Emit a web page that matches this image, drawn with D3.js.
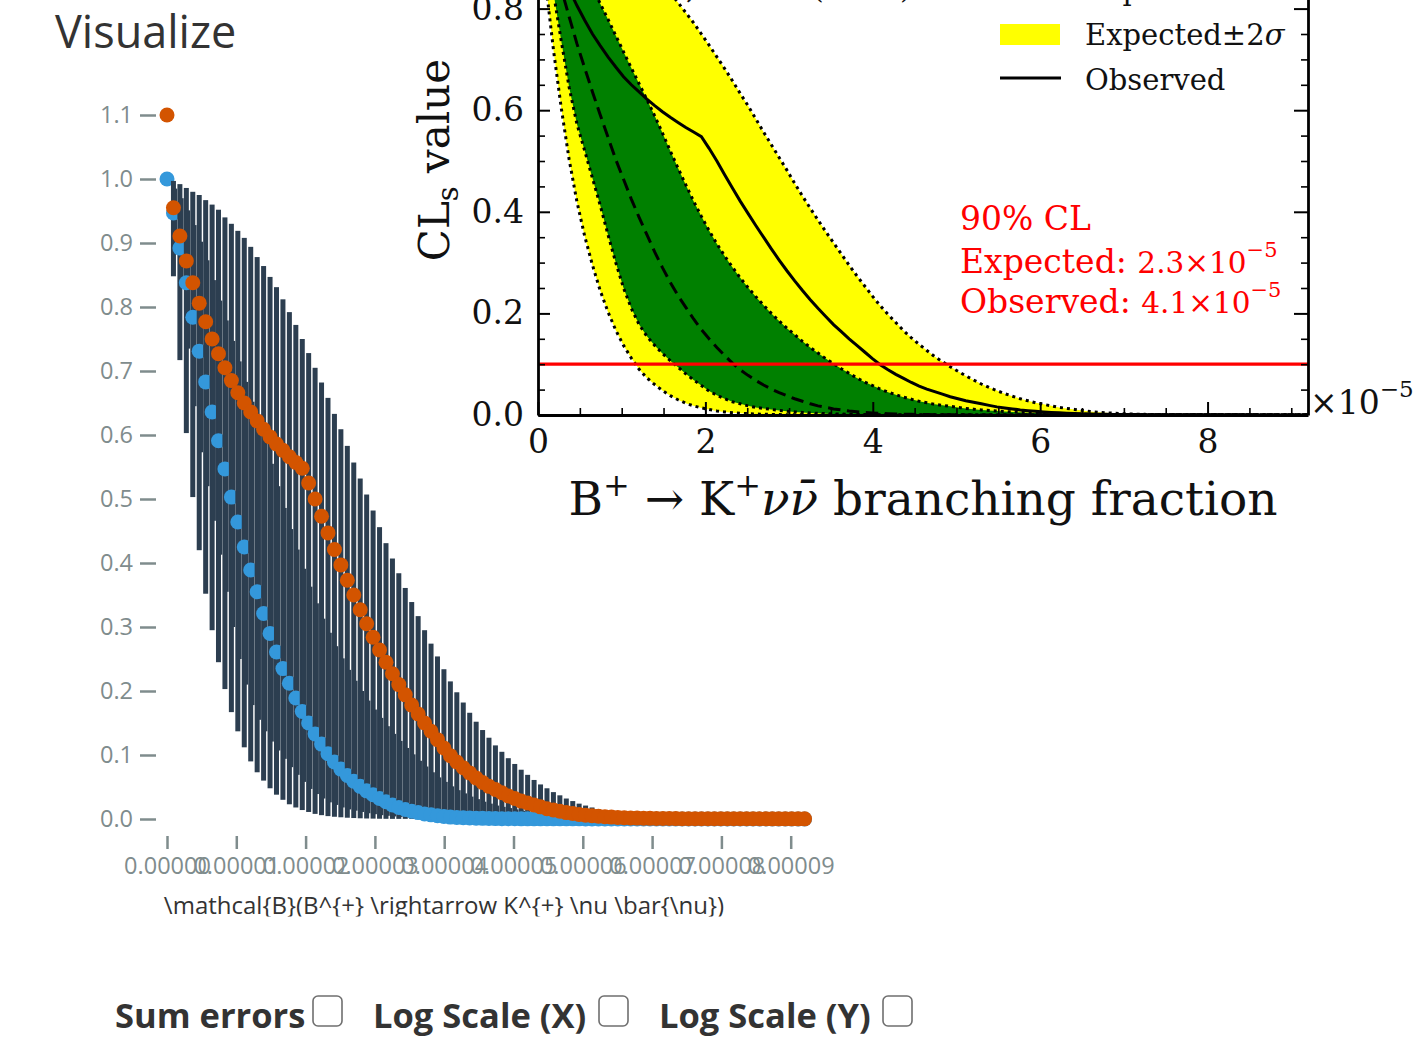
<!DOCTYPE html>
<html>
<head>
<meta charset="utf-8">
<title>B+ → K+νν̄ CLs scan</title>
<script src="https://cdn.jsdelivr.net/npm/d3@7/dist/d3.min.js"></script>
<style>
  html, body { margin: 0; padding: 0; background: #fff; }
  svg { display: block; }
</style>
</head>
<body>
<script>
// Scan points of the branching fraction, in units of 10^-5
const branching = [
  0, 0.093, 0.186, 0.279, 0.372, 0.465, 0.558, 0.651, 0.743, 0.836,
  0.929, 1.022, 1.115, 1.208, 1.301, 1.394, 1.487, 1.580, 1.673, 1.766,
  1.859, 1.952, 2.044, 2.137, 2.230, 2.323, 2.416, 2.509, 2.602, 2.695,
  2.788, 2.881, 2.974, 3.067, 3.160, 3.253, 3.345, 3.438, 3.531, 3.624,
  3.717, 3.810, 3.903, 3.996, 4.089, 4.182, 4.275, 4.368, 4.461, 4.554,
  4.646, 4.739, 4.832, 4.925, 5.018, 5.111, 5.204, 5.297, 5.390, 5.483,
  5.576, 5.669, 5.762, 5.855, 5.947, 6.040, 6.133, 6.226, 6.319, 6.412,
  6.505, 6.598, 6.691, 6.784, 6.877, 6.970, 7.063, 7.156, 7.248, 7.341,
  7.434, 7.527, 7.620, 7.713, 7.806, 7.899, 7.992, 8.085, 8.178, 8.271,
  8.364, 8.457, 8.549, 8.642, 8.735, 8.828, 8.921, 9.014, 9.107, 9.200
];

// CLs values at each scan point
const expected = [
  1.000, 0.947, 0.892, 0.838, 0.784, 0.731, 0.683, 0.636, 0.591, 0.547,
  0.503, 0.464, 0.425, 0.389, 0.355, 0.321, 0.290, 0.261, 0.235, 0.212,
  0.189, 0.168, 0.150, 0.133, 0.117, 0.102, 0.089, 0.078, 0.068, 0.059,
  0.051, 0.044, 0.038, 0.032, 0.027, 0.022, 0.018, 0.015, 0.012, 0.010,
  0.008, 0.0065, 0.005, 0.004, 0.003, 0.0025, 0.002, 0.0016, 0.0013, 0.001,
  0.0008, 0.0006, 0.0005, 0.0004, 0.0003, 0.0002, 0.0002, 0.0002, 0.0002, 0.0002,
  0.0002, 0.0002, 0.0002, 0.0002, 0.0002, 0.0001, 0.0001, 0.0001, 0.0001, 0.0001,
  0.0001, 0.0001, 0.0001, 0.0001, 0.0001, 0.0001, 0.0001, 0.0001, 0.0001, 0.0001,
  0.0001, 0.0001, 0.0001, 0.0001, 0.0001, 0.0001, 0.0001, 0.0001, 0.0001, 0.0001,
  0.0001, 0.0001, 0.0001, 0.0001, 0.0001, 0.0001, 0.0001, 0.0001, 0.0001, 0.0001
];
const observed = [
  1.100, 0.955, 0.911, 0.872, 0.838, 0.806, 0.777, 0.750, 0.727, 0.705,
  0.685, 0.666, 0.650, 0.636, 0.622, 0.609, 0.597, 0.586, 0.576, 0.566,
  0.557, 0.548, 0.525, 0.500, 0.473, 0.447, 0.421, 0.397, 0.373, 0.350,
  0.327, 0.305, 0.284, 0.264, 0.245, 0.227, 0.210, 0.194, 0.178, 0.164,
  0.150, 0.137, 0.124, 0.111, 0.099, 0.089, 0.080, 0.072, 0.064, 0.057,
  0.051, 0.046, 0.041, 0.036, 0.032, 0.028, 0.025, 0.022, 0.019, 0.016,
  0.014, 0.012, 0.010, 0.0085, 0.0072, 0.006, 0.005, 0.0042, 0.0035, 0.003,
  0.0025, 0.002, 0.0017, 0.0014, 0.0012, 0.001, 0.0009, 0.0008, 0.0007, 0.0006,
  0.0005, 0.0004, 0.0004, 0.0004, 0.0004, 0.0004, 0.0003, 0.0003, 0.0003, 0.0003,
  0.0003, 0.0003, 0.0003, 0.0002, 0.0002, 0.0002, 0.0002, 0.0002, 0.0002, 0.0002
];
const minus1 = [
  1.000, 0.910, 0.830, 0.735, 0.645, 0.573, 0.520, 0.466, 0.413, 0.355,
  0.300, 0.250, 0.210, 0.178, 0.155, 0.137, 0.121, 0.107, 0.094, 0.081,
  0.069, 0.058, 0.047, 0.039, 0.032, 0.026, 0.022, 0.018, 0.015, 0.013,
  0.011, 0.009, 0.0075, 0.006, 0.005, 0.004, 0.0033, 0.0027, 0.0022, 0.0018,
  0.0014, 0.0011, 0.0009, 0.0007, 0.0005, 0.0004, 0.0003, 0.0003, 0.0003, 0.0003,
  0.0003, 0.0003, 0.0003, 0.0003, 0.0003, 0.0003, 0.0002, 0.0002, 0.0002, 0.0002,
  0.0002, 0.0002, 0.0002, 0.0002, 0.0002, 0.0002, 0.0002, 0.0002, 0.0002, 0.0002,
  0.0002, 0.0002, 0.0002, 0.0002, 0.0002, 0.0002, 0.0002, 0.0002, 0.0002, 0.0002,
  0.0002, 0.0002, 0.0002, 0.0002, 0.0002, 0.0002, 0.0002, 0.0002, 0.0002, 0.0002,
  0.0002, 0.0002, 0.0002, 0.0002, 0.0002, 0.0002, 0.0002, 0.0002, 0.0002, 0.0002
];
const plus1 = [
  1.000, 0.985, 0.970, 0.951, 0.928, 0.902, 0.873, 0.842, 0.810, 0.779,
  0.747, 0.715, 0.683, 0.652, 0.621, 0.589, 0.555, 0.520, 0.486, 0.453,
  0.421, 0.391, 0.363, 0.337, 0.313, 0.291, 0.270, 0.251, 0.233, 0.216,
  0.200, 0.185, 0.171, 0.158, 0.145, 0.133, 0.122, 0.111, 0.101, 0.091,
  0.082, 0.073, 0.065, 0.058, 0.051, 0.045, 0.040, 0.035, 0.031, 0.027,
  0.024, 0.021, 0.019, 0.017, 0.015, 0.013, 0.0115, 0.010, 0.009, 0.008,
  0.007, 0.006, 0.0052, 0.0045, 0.0039, 0.0033, 0.0028, 0.0024, 0.002, 0.0017,
  0.0014, 0.0012, 0.001, 0.0008, 0.0007, 0.0006, 0.0004, 0.0004, 0.0004, 0.0004,
  0.0004, 0.0004, 0.0004, 0.0004, 0.0004, 0.0004, 0.0003, 0.0003, 0.0003, 0.0003,
  0.0003, 0.0003, 0.0003, 0.0003, 0.0003, 0.0003, 0.0003, 0.0003, 0.0003, 0.0003
];
const minus2 = [
  1.000, 0.848, 0.717, 0.603, 0.503, 0.420, 0.352, 0.295, 0.245, 0.203,
  0.167, 0.137, 0.112, 0.090, 0.073, 0.060, 0.048, 0.038, 0.030, 0.023,
  0.018, 0.014, 0.011, 0.008, 0.006, 0.0045, 0.0035, 0.0027, 0.002, 0.0015,
  0.0011, 0.0008, 0.0006, 0.0004, 0.0003, 0.0002, 0.0002, 0.0002, 0.0002, 0.0002,
  0.0002, 0.0002, 0.0002, 0.0002, 0.0002, 0.0001, 0.0001, 0.0001, 0.0001, 0.0001,
  0.0001, 0.0001, 0.0001, 0.0001, 0.0001, 0.0001, 0.0001, 0.0001, 0.0001, 0.0001,
  0.0001, 0.0001, 0.0001, 0.0001, 0.0001, 0.0001, 0.0001, 0.0001, 0.0001, 0.0001,
  0.0001, 0.0001, 0.0001, 0.0001, 0.0001, 0.0001, 0.0001, 0.0001, 0.0001, 0.0001,
  0.0001, 0.0001, 0.0001, 0.0001, 0.0001, 0.0001, 0.0001, 0.0001, 0.0001, 0.0001,
  0.0001, 0.0001, 0.0001, 0.0001, 0.0001, 0.0001, 0.0001, 0.0001, 0.0001, 0.0001
];
const plus2 = [
  1.000, 0.997, 0.992, 0.986, 0.980, 0.975, 0.967, 0.960, 0.952, 0.940,
  0.930, 0.919, 0.908, 0.894, 0.878, 0.864, 0.847, 0.831, 0.812, 0.792,
  0.772, 0.750, 0.728, 0.705, 0.682, 0.658, 0.633, 0.609, 0.583, 0.557,
  0.532, 0.507, 0.482, 0.456, 0.431, 0.407, 0.384, 0.361, 0.339, 0.317,
  0.295, 0.274, 0.254, 0.234, 0.215, 0.198, 0.182, 0.166, 0.152, 0.139,
  0.127, 0.115, 0.105, 0.095, 0.086, 0.077, 0.069, 0.061, 0.054, 0.048,
  0.042, 0.037, 0.032, 0.028, 0.024, 0.021, 0.018, 0.015, 0.013, 0.011,
  0.009, 0.007, 0.0055, 0.0045, 0.0035, 0.0028, 0.0022, 0.0017, 0.0013, 0.001,
  0.0008, 0.0007, 0.0006, 0.0006, 0.0005, 0.0005, 0.0005, 0.0005, 0.0005, 0.0005,
  0.0004, 0.0004, 0.0004, 0.0004, 0.0004, 0.0004, 0.0004, 0.0004, 0.0004, 0.0004
];

// 90% CL threshold and the resulting limits (×10^-5)
const clLevel = 0.1;
const limitExpected = "2.3";
const limitObserved = "4.1";

// Tick values
const tableYTicks = [0, 0.1, 0.2, 0.3, 0.4, 0.5, 0.6, 0.7, 0.8, 0.9, 1.0, 1.1];
const tableXTicks = [0, 1e-5, 2e-5, 3e-5, 4e-5, 5e-5, 6e-5, 7e-5, 8e-5, 9e-5];
const plotYMajor = [0, 0.2, 0.4, 0.6, 0.8, 1.0];
const plotYMinor = [0.05, 0.1, 0.15, 0.25, 0.3, 0.35, 0.45, 0.5, 0.55, 0.65, 0.7, 0.75, 0.85, 0.9, 0.95];
const plotXMajor = [0, 2, 4, 6, 8];
const plotXMinor = [0.5, 1, 1.5, 2.5, 3, 3.5, 4.5, 5, 5.5, 6.5, 7, 7.5, 8.5, 9];

// Toggles under the table view
const controls = ["Sum errors", "Log Scale (X)", "Log Scale (Y)"];

// ------------------------------------------------------------------
const W = 1419, H = 1039;
const SANS = '"Open Sans", "Noto Sans", sans-serif';
const SERIF = '"DejaVu Serif", serif';
const GREY = '#7f8c8d';

const rows = branching.map((b, i) => ({
  b, exp: expected[i], obs: observed[i],
  m1: minus1[i], p1: plus1[i], m2: minus2[i], p2: plus2[i]
}));

const svg = d3.select('body').append('svg')
  .attr('width', W).attr('height', H).attr('viewBox', `0 0 ${W} ${H}`);
svg.append('rect').attr('width', W).attr('height', H).attr('fill', '#fff');

const defs = svg.append('defs');
defs.append('clipPath').attr('id', 'clip-table')
  .append('rect').attr('x', 0).attr('y', 0).attr('width', W).attr('height', 916.5);

// ---------------- Table view (points with error bars) ----------------
svg.append('text')
  .attr('x', 55).attr('y', 48)
  .attr('font-family', SANS).attr('font-size', 45).attr('fill', '#333')
  .text('Visualize');

const table = svg.append('g').attr('clip-path', 'url(#clip-table)');
const xT = d3.scaleLinear().domain([0, 9e-5]).range([167, 790.7]);
const yT = d3.scaleLinear().domain([0, 1.1]).range([819, 115]);

function greyAxis(g) {
  g.select('.domain').remove();
  g.attr('font-family', SANS).attr('font-size', 23.5);
  g.selectAll('line').attr('stroke', GREY).attr('stroke-width', 2.5);
  g.selectAll('text').attr('fill', GREY);
}

table.append('g').attr('transform', 'translate(156,0)')
  .call(d3.axisLeft(yT).tickValues(tableYTicks).tickFormat(d3.format('.1f')).tickSize(16).tickPadding(7))
  .call(greyAxis);

table.append('g').attr('transform', 'translate(0,836)')
  .call(d3.axisBottom(xT).tickValues(tableXTicks).tickFormat(d3.format('.5f')).tickSize(13).tickPadding(8))
  .call(greyAxis);

table.append('text')
  .attr('x', 444).attr('y', 914).attr('text-anchor', 'middle')
  .attr('font-family', SANS).attr('font-size', 24).attr('fill', '#333')
  .text('\\mathcal{B}(B^{+} \\rightarrow K^{+} \\nu \\bar{\\nu})');

// each scan point: ±2σ bar, ±1σ bar, expected marker
const point = table.append('g').selectAll('g').data(rows).join('g');
point.append('rect')
  .attr('x', d => xT(d.b * 1e-5) - 2.5).attr('width', 5)
  .attr('y', d => yT(d.p2)).attr('height', d => yT(d.m2) - yT(d.p2))
  .attr('fill', '#2c3e50');
point.append('rect')
  .attr('x', d => xT(d.b * 1e-5) - 1.2).attr('width', 5)
  .attr('y', d => yT(d.p1)).attr('height', d => yT(d.m1) - yT(d.p1))
  .attr('fill', '#2c3e50');
point.append('circle')
  .attr('cx', d => xT(d.b * 1e-5)).attr('cy', d => yT(d.exp)).attr('r', 7.5)
  .attr('fill', '#3498db');

table.append('g').selectAll('circle').data(rows).join('circle')
  .attr('cx', d => xT(d.b * 1e-5)).attr('cy', d => yT(d.obs)).attr('r', 7.5)
  .attr('fill', '#d35400');

// toggles: label followed by an empty checkbox
const toggleX = [115, 373, 659];
const boxX = [313, 599, 883];
const ctl = svg.append('g').attr('font-family', SANS).attr('font-weight', 700)
  .attr('font-size', 34.5).attr('fill', '#333');
controls.forEach((label, i) => {
  ctl.append('text').attr('x', toggleX[i]).attr('y', 1028).text(label);
  ctl.append('rect')
    .attr('x', boxX[i]).attr('y', 996).attr('width', 29).attr('height', 30).attr('rx', 5)
    .attr('fill', '#fff').attr('stroke', '#6f6f6f').attr('stroke-width', 1.6);
});

// ---------------- CLs scan figure ----------------
const xR = d3.scaleLinear().domain([0, 9.2]).range([538, 1308]);
const yR = d3.scaleLinear().domain([0, 1]).range([415, -93]);

defs.append('clipPath').attr('id', 'clip-plot')
  .append('rect').attr('x', xR(0)).attr('y', yR(1))
  .attr('width', xR(9.2) - xR(0)).attr('height', yR(0) - yR(1));

const fig = svg.append('g');

// experiment label in the upper part of the axes
const head = fig.append('text').attr('x', 576).attr('y', -2)
  .attr('font-family', SERIF).attr('font-size', 30).attr('fill', '#111');
head.append('tspan').text('Belle II, 63 fb');
head.append('tspan').attr('font-size', 21).attr('dy', -12).text('−1');
head.append('tspan').attr('x', 812).attr('dy', 12).text('(2021)');

const plot = fig.append('g').attr('clip-path', 'url(#clip-plot)');

const band = (lo, hi) => d3.area().x(d => xR(d.b)).y0(d => yR(d[lo])).y1(d => yR(d[hi]));
const curve = key => d3.line().x(d => xR(d.b)).y(d => yR(d[key]));

plot.append('path').datum(rows).attr('d', band('m2', 'p2')).attr('fill', '#ffff00');
plot.append('path').datum(rows).attr('d', band('m1', 'p1')).attr('fill', '#008000');

['m2', 'm1', 'p1', 'p2'].forEach(k => {
  plot.append('path').datum(rows).attr('d', curve(k))
    .attr('fill', 'none').attr('stroke', '#000').attr('stroke-width', 3)
    .attr('stroke-dasharray', '3 4');
});
plot.append('path').datum(rows).attr('d', curve('exp'))
  .attr('fill', 'none').attr('stroke', '#000').attr('stroke-width', 3)
  .attr('stroke-dasharray', '12.5 6.5');
plot.append('path').datum(rows).attr('d', curve('obs'))
  .attr('fill', 'none').attr('stroke', '#000').attr('stroke-width', 3);
plot.append('line')
  .attr('x1', xR(0)).attr('x2', xR(9.2)).attr('y1', yR(clLevel)).attr('y2', yR(clLevel))
  .attr('stroke', '#ff0000').attr('stroke-width', 3.2);

function blackAxis(g) {
  g.attr('font-family', SERIF).attr('font-size', 33);
  g.select('.domain').attr('stroke', '#000').attr('stroke-width', 2.8);
  g.selectAll('line').attr('stroke', '#000').attr('stroke-width', 2);
  g.selectAll('text').attr('fill', '#111');
}
function minorAxis(g) {
  g.select('.domain').remove();
  g.selectAll('line').attr('stroke', '#000').attr('stroke-width', 1.6);
}

fig.append('g').attr('transform', `translate(${xR(0)},0)`)
  .call(d3.axisLeft(yR).tickValues(plotYMajor).tickFormat(d3.format('.1f')).tickSize(-12).tickSizeOuter(0).tickPadding(14))
  .call(blackAxis);
fig.append('g').attr('transform', `translate(${xR(0)},0)`)
  .call(d3.axisLeft(yR).tickValues(plotYMinor).tickFormat('').tickSize(-7))
  .call(minorAxis);
fig.append('g').attr('transform', `translate(${xR(9.2)},0)`)
  .call(d3.axisRight(yR).tickValues(plotYMajor).tickFormat('').tickSize(-14).tickSizeOuter(0))
  .call(blackAxis);
fig.append('g').attr('transform', `translate(${xR(9.2)},0)`)
  .call(d3.axisRight(yR).tickValues(plotYMinor).tickFormat('').tickSize(-7))
  .call(minorAxis);
fig.append('g').attr('transform', `translate(0,${yR(0)})`)
  .call(d3.axisBottom(xR).tickValues(plotXMajor).tickFormat(d3.format('d')).tickSize(-13).tickSizeOuter(0).tickPadding(15))
  .call(blackAxis);
fig.append('g').attr('transform', `translate(0,${yR(0)})`)
  .call(d3.axisBottom(xR).tickValues(plotXMinor).tickFormat('').tickSize(-7))
  .call(minorAxis);

// offset text of the x axis
const off = fig.append('text').attr('x', 1310).attr('y', 414)
  .attr('font-family', SERIF).attr('font-size', 33).attr('fill', '#111');
off.append('tspan').text('×10');
off.append('tspan').attr('font-size', 23).attr('dy', -17).text('−5');

// axis titles
const xl = fig.append('text').attr('x', (xR(0) + xR(9.2)) / 2).attr('y', 515)
  .attr('text-anchor', 'middle').attr('font-family', SERIF).attr('font-size', 47).attr('fill', '#111');
xl.append('tspan').text('B');
xl.append('tspan').attr('font-size', 32).attr('dy', -19).text('+');
xl.append('tspan').attr('dy', 19).text(' → K');
xl.append('tspan').attr('font-size', 32).attr('dy', -19).text('+');
xl.append('tspan').attr('dy', 19).attr('font-style', 'italic').text('νν̄');
xl.append('tspan').text(' branching fraction');

const yl = fig.append('text').attr('transform', 'translate(449,160) rotate(-90)')
  .attr('text-anchor', 'middle').attr('font-family', SERIF).attr('font-size', 42).attr('fill', '#111');
yl.append('tspan').text('CL');
yl.append('tspan').attr('font-size', 29).attr('dy', 9).text('s');
yl.append('tspan').attr('dy', -9).text(' value');

// legend
const legend = fig.append('g').attr('font-family', SERIF).attr('font-size', 29).attr('fill', '#111');
const legendRows = [
  { label: 'Expected', sigma: null, y: -45 },
  { label: 'Expected±1', sigma: 'σ', y: 0, fill: '#008000' },
  { label: 'Expected±2', sigma: 'σ', y: 45, fill: '#ffff00' },
  { label: 'Observed', sigma: null, y: 90 }
];
legendRows.forEach((r, i) => {
  if (r.fill) {
    legend.append('rect').attr('x', 1000).attr('y', r.y - 21).attr('width', 60).attr('height', 21).attr('fill', r.fill);
  } else {
    legend.append('line').attr('x1', 1000).attr('x2', 1061).attr('y1', r.y - 12).attr('y2', r.y - 12)
      .attr('stroke', '#000').attr('stroke-width', 3)
      .attr('stroke-dasharray', i === 0 ? '12.5 6.5' : null);
  }
  const t = legend.append('text').attr('x', 1085).attr('y', r.y);
  t.append('tspan').text(r.label);
  if (r.sigma) t.append('tspan').attr('font-style', 'italic').text(r.sigma);
});

// limit annotation
const note = fig.append('g').attr('font-family', SERIF).attr('font-size', 33).attr('fill', '#ff0000');
note.append('text').attr('x', 960).attr('y', 230).text('90% CL');
[['Expected: ', limitExpected, 273], ['Observed: ', limitObserved, 313]].forEach(([lab, val, y]) => {
  const t = note.append('text').attr('x', 960).attr('y', y);
  t.append('tspan').text(lab);
  t.append('tspan').attr('font-size', 29.5).text(val + '×10');
  t.append('tspan').attr('font-size', 21).attr('dy', -16).text('−5');
});
</script>
</body>
</html>
